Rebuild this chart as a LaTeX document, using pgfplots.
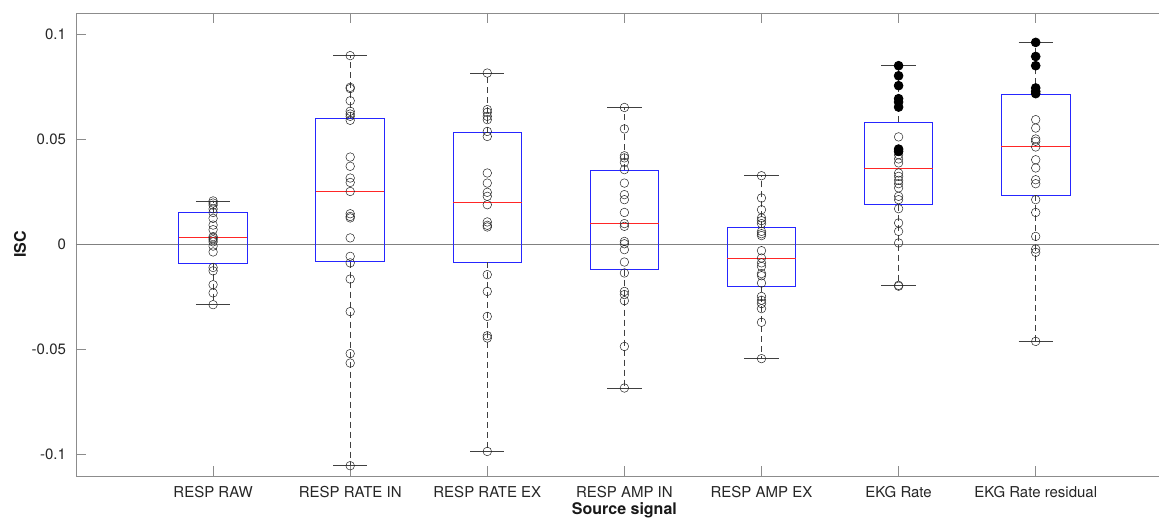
\documentclass[border=0pt]{standalone}
\usepackage{fontspec}
\setmainfont{TeX Gyre Heros}
\usepackage{pgfplots}
\pgfplotsset{compat=1.18}

\pgfplotsset{
  whisk/.style={black!75, line width=0.3pt, dash pattern=on 3pt off 2pt, forget plot},
  capl/.style={black!75, line width=0.35pt, forget plot},
  boxs/.style={blue!85, line width=0.45pt, line join=miter, forget plot},
  medl/.style={red!85, line width=0.45pt, forget plot},
}

\begin{document}
\begin{tikzpicture}
\begin{axis}[
  at={(0,0)}, anchor=south west,
  scale only axis, width=548.4pt, height=231.5pt,
  xmin=0, xmax=8, ymin=-0.1105, ymax=0.11,
  axis line style={black!45, line width=0.4pt},
  xtick={1,2,3,4,5,6,7},
  xticklabels={RESP RAW, RESP RATE IN, RESP RATE EX, RESP AMP IN, RESP AMP EX, EKG Rate, EKG Rate residual},
  ytick={-0.1,-0.05,0,0.05,0.1},
  yticklabels={-0.1,-0.05,0,0.05,0.1},
  xtick pos=both, ytick pos=left,
  tick align=inside, major tick length=5pt,
  tick style={black!45, line width=0.4pt},
  tick label style={font=\fontsize{7.5}{9}\selectfont, text=black!85},
  xticklabel style={anchor=base, yshift=-10.5pt},
  yticklabel style={anchor=east, xshift=-1.5pt},
  xlabel={Source signal}, ylabel={ISC},
  every axis x label/.style={at={(rel axis cs:0.5,-0.0842)}, anchor=base, font=\fontsize{8}{9.5}\selectfont\bfseries, text=black!90},
  every axis y label/.style={at={(rel axis cs:-0.0511,0.5)}, rotate=90, anchor=center, font=\fontsize{8}{9.5}\selectfont\bfseries, text=black!90},
]
% zero line
\addplot[black!50, line width=0.4pt, forget plot] coordinates {(0,0) (8,0)};

% boxes (lower quartile to upper quartile)
\addplot[boxs] coordinates {(0.75,-0.0094) (1.25,-0.0094) (1.25,0.0148) (0.75,0.0148) (0.75,-0.0094)};
\addplot[boxs] coordinates {(1.75,-0.0084) (2.25,-0.0084) (2.25,0.0600) (1.75,0.0600) (1.75,-0.0084)};
\addplot[boxs] coordinates {(2.75,-0.0088) (3.25,-0.0088) (3.25,0.0529) (2.75,0.0529) (2.75,-0.0088)};
\addplot[boxs] coordinates {(3.75,-0.0122) (4.25,-0.0122) (4.25,0.0352) (3.75,0.0352) (3.75,-0.0122)};
\addplot[boxs] coordinates {(4.75,-0.0202) (5.25,-0.0202) (5.25,0.0079) (4.75,0.0079) (4.75,-0.0202)};
\addplot[boxs] coordinates {(5.75,0.0187) (6.25,0.0187) (6.25,0.0581) (5.75,0.0581) (5.75,0.0187)};
\addplot[boxs] coordinates {(6.75,0.0232) (7.25,0.0232) (7.25,0.0712) (6.75,0.0712) (6.75,0.0232)};

% medians
\addplot[medl] coordinates {(0.75,0.0030) (1.25,0.0030)};
\addplot[medl] coordinates {(1.75,0.0252) (2.25,0.0252)};
\addplot[medl] coordinates {(2.75,0.0197) (3.25,0.0197)};
\addplot[medl] coordinates {(3.75,0.0098) (4.25,0.0098)};
\addplot[medl] coordinates {(4.75,-0.0067) (5.25,-0.0067)};
\addplot[medl] coordinates {(5.75,0.0359) (6.25,0.0359)};
\addplot[medl] coordinates {(6.75,0.0463) (7.25,0.0463)};

% whiskers (dashed)
\addplot[whisk] coordinates {(1,0.0148) (1,0.0205)};
\addplot[whisk] coordinates {(1,-0.0094) (1,-0.0289)};
\addplot[whisk] coordinates {(2,0.0600) (2,0.0897)};
\addplot[whisk] coordinates {(2,-0.0084) (2,-0.1056)};
\addplot[whisk] coordinates {(3,0.0529) (3,0.0814)};
\addplot[whisk] coordinates {(3,-0.0088) (3,-0.0988)};
\addplot[whisk] coordinates {(4,0.0352) (4,0.0650)};
\addplot[whisk] coordinates {(4,-0.0122) (4,-0.0686)};
\addplot[whisk] coordinates {(5,0.0079) (5,0.0325)};
\addplot[whisk] coordinates {(5,-0.0202) (5,-0.0546)};
\addplot[whisk] coordinates {(6,0.0581) (6,0.0849)};
\addplot[whisk] coordinates {(6,0.0187) (6,-0.0199)};
\addplot[whisk] coordinates {(7,0.0712) (7,0.0960)};
\addplot[whisk] coordinates {(7,0.0232) (7,-0.0464)};

% whisker caps
\addplot[capl] coordinates {(0.875,0.0205) (1.125,0.0205)};
\addplot[capl] coordinates {(0.875,-0.0289) (1.125,-0.0289)};
\addplot[capl] coordinates {(1.875,0.0897) (2.125,0.0897)};
\addplot[capl] coordinates {(1.875,-0.1056) (2.125,-0.1056)};
\addplot[capl] coordinates {(2.875,0.0814) (3.125,0.0814)};
\addplot[capl] coordinates {(2.875,-0.0988) (3.125,-0.0988)};
\addplot[capl] coordinates {(3.875,0.0650) (4.125,0.0650)};
\addplot[capl] coordinates {(3.875,-0.0686) (4.125,-0.0686)};
\addplot[capl] coordinates {(4.875,0.0325) (5.125,0.0325)};
\addplot[capl] coordinates {(4.875,-0.0546) (5.125,-0.0546)};
\addplot[capl] coordinates {(5.875,0.0849) (6.125,0.0849)};
\addplot[capl] coordinates {(5.875,-0.0199) (6.125,-0.0199)};
\addplot[capl] coordinates {(6.875,0.0960) (7.125,0.0960)};
\addplot[capl] coordinates {(6.875,-0.0464) (7.125,-0.0464)};

% individual subjects (open circles)
\addplot[only marks, mark=o, mark size=2.15pt, black!85, mark options={line width=0.25pt}] table[row sep=\\] {
x y \\
1 0.0205 \\ 1 0.0195 \\ 1 0.0185 \\ 1 0.0167 \\ 1 0.0150 \\ 1 0.0122 \\ 1 0.0090 \\ 1 0.0068 \\ 1 0.0035 \\ 1 0.0028 \\
1 0.0020 \\ 1 0.0010 \\ 1 -0.0010 \\ 1 -0.0038 \\ 1 -0.0112 \\ 1 -0.0128 \\ 1 -0.0194 \\ 1 -0.0233 \\ 1 -0.0289 \\
2 0.0897 \\ 2 0.0746 \\ 2 0.0740 \\ 2 0.0682 \\ 2 0.0632 \\ 2 0.0619 \\ 2 0.0608 \\ 2 0.0589 \\ 2 0.0414 \\ 2 0.0370 \\
2 0.0314 \\ 2 0.0293 \\ 2 0.0250 \\ 2 0.0144 \\ 2 0.0131 \\ 2 0.0124 \\ 2 0.0029 \\ 2 -0.0059 \\ 2 -0.0090 \\ 2 -0.0167 \\
2 -0.0322 \\ 2 -0.0522 \\ 2 -0.0567 \\ 2 -0.1056 \\
3 0.0814 \\ 3 0.0640 \\ 3 0.0627 \\ 3 0.0608 \\ 3 0.0592 \\ 3 0.0536 \\ 3 0.0512 \\ 3 0.0338 \\ 3 0.0290 \\ 3 0.0246 \\
3 0.0227 \\ 3 0.0187 \\ 3 0.0105 \\ 3 0.0089 \\ 3 0.0081 \\ 3 -0.0146 \\ 3 -0.0226 \\ 3 -0.0345 \\ 3 -0.0437 \\ 3 -0.0448 \\
3 -0.0988 \\
4 0.0650 \\ 4 0.0548 \\ 4 0.0420 \\ 4 0.0410 \\ 4 0.0389 \\ 4 0.0354 \\ 4 0.0290 \\ 4 0.0235 \\ 4 0.0211 \\ 4 0.0150 \\
4 0.0097 \\ 4 0.0084 \\ 4 0.0012 \\ 4 0.0001 \\ 4 -0.0027 \\ 4 -0.0086 \\ 4 -0.0138 \\ 4 -0.0226 \\ 4 -0.0241 \\ 4 -0.0270 \\
4 -0.0488 \\ 4 -0.0686 \\
5 0.0325 \\ 5 0.0219 \\ 5 0.0163 \\ 5 0.0124 \\ 5 0.0111 \\ 5 0.0097 \\ 5 0.0060 \\ 5 0.0049 \\ 5 0.0040 \\ 5 -0.0032 \\
5 -0.0067 \\ 5 -0.0090 \\ 5 -0.0107 \\ 5 -0.0141 \\ 5 -0.0151 \\ 5 -0.0186 \\ 5 -0.0250 \\ 5 -0.0268 \\ 5 -0.0284 \\ 5 -0.0308 \\
5 -0.0373 \\ 5 -0.0546 \\
6 0.0510 \\ 6 0.0425 \\ 6 0.0405 \\ 6 0.0386 \\ 6 0.0338 \\ 6 0.0322 \\ 6 0.0303 \\ 6 0.0287 \\ 6 0.0267 \\ 6 0.0227 \\
6 0.0211 \\ 6 0.0168 \\ 6 0.0100 \\ 6 0.0060 \\ 6 0.0005 \\ 6 -0.0197 \\ 6 -0.0201 \\
7 0.0592 \\ 7 0.0552 \\ 7 0.0500 \\ 7 0.0489 \\ 7 0.0462 \\ 7 0.0401 \\ 7 0.0362 \\ 7 0.0306 \\ 7 0.0287 \\ 7 0.0211 \\
7 0.0150 \\ 7 0.0036 \\ 7 -0.0024 \\ 7 -0.0040 \\ 7 -0.0464 \\
};

% significant subjects (filled)
\addplot[only marks, mark=*, mark size=2.2pt, black, mark options={fill=black}] table[row sep=\\] {
x y \\
6 0.0849 \\ 6 0.0801 \\ 6 0.0754 \\ 6 0.0692 \\ 6 0.0676 \\ 6 0.0652 \\ 6 0.0452 \\ 6 0.0441 \\
7 0.0960 \\ 7 0.0893 \\ 7 0.0849 \\ 7 0.0743 \\ 7 0.0727 \\ 7 0.0716 \\
};
\end{axis}
\pgfresetboundingbox
\path[use as bounding box] (-38pt,-22pt) rectangle (541.5pt,238pt);
\end{tikzpicture}
\end{document}
